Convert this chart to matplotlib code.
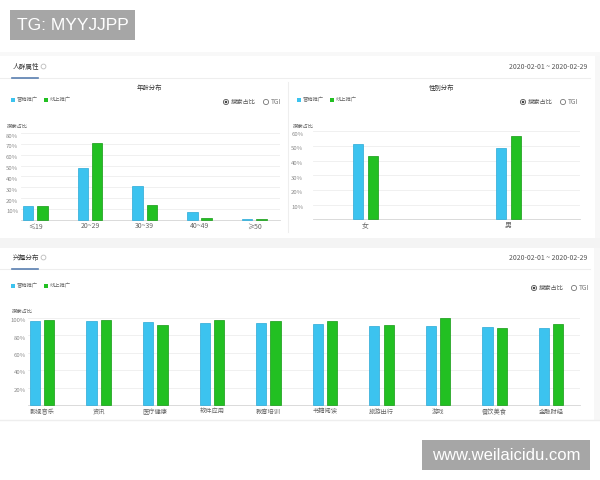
import matplotlib
matplotlib.use("Agg")
import matplotlib.pyplot as plt
from matplotlib.patches import Rectangle, Circle
from matplotlib.transforms import ScaledTranslation
import numpy as np

plt.rcParams['font.family'] = ['Noto Sans CJK SC', 'DejaVu Sans']

# ---------------- data ----------------
series_names = ["营销推广", "线上推广"]
age_labels = ["≤19", "20~29", "30~39", "40~49", "≥50"]
age_marketing = [13, 48, 31, 7, 1]
age_online = [13, 71, 14, 2, 0.3]
age_ticks = [10, 20, 30, 40, 50, 60, 70, 80]

gender_labels = ["女", "男"]
gender_marketing = [51.5, 48.5]
gender_online = [43.5, 56.5]
gender_ticks = [10, 20, 30, 40, 50, 60]

interest_labels = ["影视音乐", "资讯", "医疗健康", "软件应用", "教育培训",
                   "书籍阅读", "旅游出行", "游戏", "餐饮美食", "金融财经"]
interest_marketing = [96.5, 95.5, 94.5, 94, 94, 93, 90.5, 90, 89.5, 88.5]
interest_online = [97.5, 97, 92, 97, 96.5, 95.5, 91.5, 99.5, 88, 92.5]
interest_ticks = [20, 40, 60, 80, 100]

date_range = "2020-02-01 ~ 2020-02-29"

BLUE = "#3cc3ef"
BLUE_EDGE = "#2aa9d6"
GREEN = "#22c022"
GREEN_EDGE = "#149a14"
TICK_C = "#8a8a8a"

W, H = 600, 480
fig = plt.figure(figsize=(6, 4.8), dpi=100)
fig.patch.set_facecolor("white")

# overlay axes in pixel coordinates
ov = fig.add_axes([0, 0, 1, 1], zorder=0)
ov.set_xlim(0, W)
ov.set_ylim(H, 0)
ov.axis("off")


def px_axes(x0, y0, x1, y1):
    ax = fig.add_axes([x0 / W, 1 - y1 / H, (x1 - x0) / W, (y1 - y0) / H], zorder=2)
    ax.set_facecolor("none")
    return ax


# background bands
ov.add_patch(Rectangle((0, 52), 600, 4, color="#f8f8f8", lw=0))
ov.add_patch(Rectangle((0, 238), 600, 10, color="#f4f4f4", lw=0))
ov.add_patch(Rectangle((595, 56), 5, 182, color="#f7f7f7", lw=0))
ov.add_patch(Rectangle((594, 248), 6, 172, color="#f7f7f7", lw=0))
ov.plot([0, 600], [420, 420], color="#eeeeee", lw=1)

# watermark boxes
ov.add_patch(Rectangle((10, 10), 125, 30, color="#a6a6a6", lw=0))
ov.text(17, 25.5, "TG: MYYJJPP", color="white", fontsize=12.5, family="Liberation Sans",
        va="center", ha="left")
ov.add_patch(Rectangle((422, 440), 168, 30, color="#a6a6a6", lw=0))
ov.text(506, 455.5, "www.weilaicidu.com", color="white", fontsize=12, family="Liberation Sans",
        va="center", ha="center")


def section_header(y, title):
    ov.text(13, y, title, fontsize=4.8, color="#333333", va="center", ha="left")
    ov.add_patch(Circle((43.5, y - 0.5), 2.4, fill=False, ec="#bbbbbb", lw=0.6))
    ov.plot([0, 590], [y + 10.5, y + 10.5], color="#eeeeee", lw=0.8)
    ov.plot([12, 38], [y + 10.5, y + 10.5], color="#5a7fb0", lw=1.2)
    ov.text(587, y, date_range, fontsize=5, color="#555555", va="center", ha="right")


def legend(x, y):
    ov.add_patch(Rectangle((x, y - 2), 4, 4, color=BLUE, lw=0))
    ov.text(x + 6, y, series_names[0], fontsize=3.8, color="#666666", va="center", ha="left")
    ov.add_patch(Rectangle((x + 33, y - 2), 4, 4, color=GREEN, lw=0))
    ov.text(x + 39, y, series_names[1], fontsize=3.8, color="#666666", va="center", ha="left")


def radios(x, y):
    ov.add_patch(Circle((x, y), 2.6, fill=False, ec="#555555", lw=0.6))
    ov.add_patch(Circle((x, y), 1.3, color="#444444", lw=0))
    ov.text(x + 5, y, "搜索占比", fontsize=4.5, color="#555555", va="center", ha="left")
    ov.add_patch(Circle((x + 40, y), 2.6, fill=False, ec="#777777", lw=0.6))
    ov.text(x + 45, y, "TGI", fontsize=4.8, color="#777777", va="center", ha="left")


section_header(67, "人群属性")
section_header(258, "兴趣分布")

# vertical divider between age and gender panels
ov.plot([288, 288], [82, 232], color="#eeeeee", lw=0.8)

# panel titles / legends / radios
ov.text(149, 88, "年龄分布", fontsize=4.6, color="#333333", va="center", ha="center")
ov.text(442, 88, "性别分布", fontsize=4.6, color="#333333", va="center", ha="center")
legend(11, 100)
legend(297, 100)
legend(11, 286)
radios(226, 102)
radios(523, 102)
radios(534, 288)
ov.text(7, 126, "搜索占比", fontsize=3.8, color="#666666", va="center", ha="left")
ov.text(293, 126, "搜索占比", fontsize=3.8, color="#666666", va="center", ha="left")
ov.text(12, 311, "搜索占比", fontsize=3.8, color="#666666", va="center", ha="left")


def bar_chart(ax, labels, s1, s2, ticks, ymax, xlim, width, off, pad, label_fs):
    x = np.arange(len(labels))
    ax.bar(x - off, s1, width, color=BLUE, edgecolor=BLUE_EDGE, linewidth=0.5, zorder=3,
           clip_on=False)
    ax.bar(x + off, s2, width, color=GREEN, edgecolor=GREEN_EDGE, linewidth=0.5, zorder=3,
           clip_on=False)
    ax.set_xlim(*xlim)
    ax.set_ylim(0, ymax)
    ax.set_yticks(ticks)
    ax.set_yticklabels([f"{t}%" for t in ticks])
    ax.set_xticks(x)
    ax.set_xticklabels(labels)
    ax.grid(axis="y", color="#eeeeee", lw=0.6, zorder=0)
    for s in ["top", "right", "left"]:
        ax.spines[s].set_visible(False)
    ax.spines["bottom"].set_color("#d5d5d5")
    ax.spines["bottom"].set_linewidth(0.6)
    ax.tick_params(axis="y", length=0, labelsize=4.3, labelcolor=TICK_C, pad=pad)
    ax.tick_params(axis="x", length=0, labelsize=label_fs, labelcolor="#666666", pad=2)
    shift = ScaledTranslation(0, -2.5 / 100, fig.dpi_scale_trans)
    for lbl in ax.get_yticklabels():
        lbl.set_transform(lbl.get_transform() + shift)


ax_age = px_axes(21, 133, 280, 219.7)
bar_chart(ax_age, age_labels, age_marketing, age_online, age_ticks, 80,
          (-0.26, 4.47), 0.19, 0.13, 2, 5)

ax_gen = px_axes(313, 131.3, 580, 219.3)
bar_chart(ax_gen, gender_labels, gender_marketing, gender_online, gender_ticks, 60,
          (-0.367, 1.5), 0.073, 0.052, 7, 5)

ax_int = px_axes(28, 317.5, 580, 405)
bar_chart(ax_int, interest_labels, interest_marketing, interest_online, interest_ticks, 100,
          (-0.25, 9.51), 0.18, 0.127, 1.5, 4.5)

fig.savefig("out.png", dpi=100, facecolor="white")
